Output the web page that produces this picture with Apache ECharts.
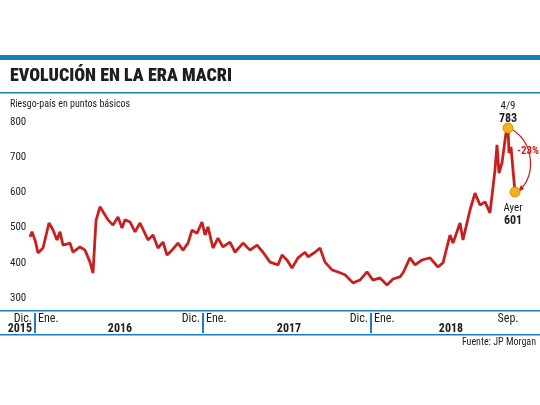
<!DOCTYPE html>
<html><head><meta charset="utf-8">
<script src="https://cdn.jsdelivr.net/npm/echarts@6/dist/echarts.min.js"></script>
<style>body{margin:0;background:#fff}#c{width:540px;height:405px}</style>
</head><body><div id="c"></div>
<script>
// t = time since Jan 1 2016 in 1/14-month steps, y = riesgo-pais (puntos basicos)
var t = [-5,-3,0,3,8,14,18,22,25,28,35,38,45,50,55,58,61,65,70,73,78,83,87,90,95,100,105,113,118,123,128,132,137,143,148,153,157,162,167,170,173,178,183,188,195,200,208,215,222,228,235,243,247,252,257,263,270,273,280,285,290,297,303,310,318,325,332,338,345,352,358,365,368,375,380,387,395,403,408,415,418,425,428,435,440,445,450,455,460,462,464,467,471,473,474,476,478,480];
var values = [473,488,465,428,442,513,493,465,488,450,456,430,445,436,402,371,520,559,536,522,507,530,499,522,516,488,513,465,479,442,459,422,436,456,436,456,493,484,516,479,502,442,470,445,459,430,456,436,450,430,402,394,422,408,385,414,430,417,430,442,402,380,374,366,343,351,374,351,357,337,354,360,371,414,394,408,414,388,400,479,456,513,465,550,598,564,573,542,664,735,655,684,769,783,712,729,664,601];
var yTicks = [300,400,500,600,700,800];
var peak = [473,783], ayer = [480,601];

var data = t.map(function(m,i){return [m,values[i]];});
var blue = '#1a7fb8', dark = '#1e1e1e', red = '#c8201e';
var cond = '"Roboto Condensed","Liberation Sans Narrow",Roboto,sans-serif';
function txt(x,y,s,o){return {type:'text',x:x,y:y,style:Object.assign({text:s,font:'12px '+cond,fill:dark},o||{})};}
var chart = echarts.init(document.getElementById('c'));
chart.setOption({
  animation:false,
  grid:{left:30,right:23,top:122,bottom:107},
  xAxis:{type:'value',min:-5,max:482,show:false},
  yAxis:{type:'value',min:300,max:800,interval:100,splitLine:{show:false},axisLine:{show:false},axisTick:{show:false},
    axisLabel:{align:'left',margin:20,color:dark,fontFamily:cond,fontSize:11,formatter:function(v){return yTicks.indexOf(v)>=0?v:'';}}},
  series:[{type:'line',data:data,symbol:'none',lineStyle:{color:red,width:2.8},
    markPoint:{symbol:'circle',symbolSize:10,itemStyle:{color:'#f2b21c',borderColor:'#e08a00',borderWidth:1},label:{show:false},
      data:[{coord:peak},{coord:ayer}]}}],
  graphic:[
    {type:'rect',shape:{x:0,y:55,width:540,height:5},style:{fill:blue}},
    txt(10,67,'EVOLUCIÓN EN LA ERA MACRI',{font:'900 18px '+cond}),
    {type:'rect',shape:{x:0,y:92,width:540,height:1.5},style:{fill:blue}},
    txt(10,99,'Riesgo-país en puntos básicos',{font:'10px '+cond}),
    txt(508,101,'4/9',{font:'11px '+cond,align:'center'}),
    txt(508,113,'783',{font:'bold 12px '+cond,align:'center'}),
    txt(513,203,'Ayer',{font:'11px '+cond,align:'center'}),
    txt(513,215,'601',{font:'bold 12px '+cond,align:'center'}),
    txt(517,146,'-23%',{font:'bold 11px '+cond,fill:red}),
    {type:'bezierCurve',shape:{x1:513,y1:130,cpx1:535,cpy1:145,cpx2:535,cpy2:175,x2:520,y2:190},style:{stroke:red,lineWidth:1.2,fill:null}},
    {type:'polygon',shape:{points:[[518,192],[521,185],[524,189]]},style:{fill:red}},
    {type:'rect',shape:{x:0,y:310,width:540,height:1.5},style:{fill:blue}},
    {type:'rect',shape:{x:0,y:334,width:540,height:1.5},style:{fill:blue}},
    {type:'rect',shape:{x:34,y:313,width:2,height:20},style:{fill:blue}},
    {type:'rect',shape:{x:202,y:313,width:2,height:20},style:{fill:blue}},
    {type:'rect',shape:{x:370,y:313,width:2,height:20},style:{fill:blue}},
    txt(32,313,'Dic.',{align:'right'}), txt(32,323,'2015',{align:'right',font:'bold 12px '+cond}),
    txt(38,313,'Ene.'), txt(200,313,'Dic.',{align:'right'}), txt(206,313,'Ene.'),
    txt(368,313,'Dic.',{align:'right'}), txt(374,313,'Ene.'),
    txt(120,323,'2016',{align:'center',font:'bold 12px '+cond}),
    txt(289,323,'2017',{align:'center',font:'bold 12px '+cond}),
    txt(451,323,'2018',{align:'center',font:'bold 12px '+cond}),
    txt(508,313,'Sep.',{align:'center'}),
    txt(536,337,'Fuente: JP Morgan',{align:'right',font:'10px '+cond})
  ]
});
</script></body></html>
